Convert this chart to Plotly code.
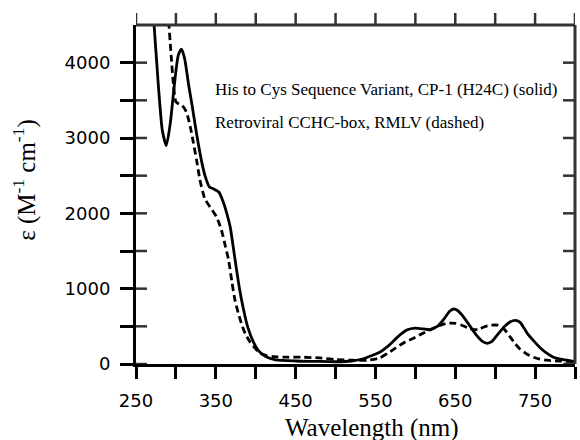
import plotly.graph_objects as go

# ---- data ----
wavelength_solid = [262, 272, 278, 283, 288, 293, 298, 303, 307, 311, 316, 320, 326, 332, 337, 342,
                    348, 354, 359, 364, 368, 372, 376, 380, 385, 390, 397, 404, 413, 425, 450, 475,
                    500, 520, 535, 545, 556, 565, 572, 580, 589, 600, 610, 618, 627, 636, 643, 648,
                    653, 660, 668, 676, 684, 690, 696, 703, 712, 719, 725, 731, 740, 748, 756, 765,
                    773, 782, 790, 800]
eps_solid = [6000, 4600, 3700, 3100, 2900, 3200, 3700, 4100, 4180, 4050, 3700, 3450, 3050, 2700, 2480, 2350,
             2320, 2280, 2160, 1990, 1820, 1540, 1250, 980, 710, 490, 295, 170, 95, 55, 40, 35,
             30, 40, 70, 110, 160, 230, 300, 380, 450, 475, 465, 455, 495, 600, 700, 730,
             710, 630, 510, 390, 300, 275, 300, 390, 500, 560, 580, 555, 410, 310, 220, 140,
             90, 65, 50, 30]

wavelength_dashed = [283, 290, 294, 297, 300, 304, 308, 313, 318, 322, 326, 330, 336, 343, 351, 357,
                     362, 366, 370, 374, 378, 382, 387, 393, 400, 406, 414, 422, 440, 460, 480, 500,
                     520, 540, 555, 565, 575, 585, 597, 608, 618, 630, 640, 650, 658, 666, 673, 680,
                     688, 695, 703, 710, 718, 725, 731, 740, 748, 756, 765, 780, 800]
eps_dashed = [6000, 4700, 4100, 3700, 3480, 3450, 3430, 3350, 3150, 2930, 2700, 2450, 2200, 2080, 1950, 1780,
              1560, 1380, 1100, 850, 680, 540, 400, 290, 200, 140, 110, 97, 90, 90, 80, 60,
              50, 50, 80, 140, 210, 280, 340, 400, 450, 510, 540, 540, 515, 480, 455, 465,
              500, 515, 515, 480, 370, 270, 200, 130, 90, 65, 50, 40, 30]

x_label_values = [250, 350, 450, 550, 650, 750]
x_label_text = ["250", "350", "450", "550", "650", "750"]
x_minor_values = [300, 400, 500, 600, 700, 800]
x_all_ticks = [250, 300, 350, 400, 450, 500, 550, 600, 650, 700, 750, 800]
y_label_values = [0, 1000, 2000, 3000, 4000]
y_label_text = ["0", "1000", "2000", "3000", "4000"]
y_minor_values = [500, 1500, 2500, 3500]
y_all_ticks = [0, 500, 1000, 1500, 2000, 2500, 3000, 3500, 4000]

legend_lines = ["His to Cys Sequence Variant, CP-1 (H24C) (solid)",
                "Retroviral CCHC-box, RMLV (dashed)"]
legend_y = [3640, 3200]

X_RANGE = [250, 800]
Y_RANGE = [0, 4500]
INK = "#000000"
FRAME_INK = "#333333"
SANS = "DejaVu Sans"
SERIF = "Liberation Serif, Times New Roman, serif"

fig = go.Figure()
fig.add_trace(go.Scatter(x=wavelength_solid, y=eps_solid, mode="lines",
                         line=dict(color=INK, width=2.8, shape="spline", smoothing=0.6),
                         showlegend=False, hoverinfo="skip"))
fig.add_trace(go.Scatter(x=wavelength_dashed, y=eps_dashed, mode="lines",
                         line=dict(color=INK, width=2.8, dash="7px,4px", shape="spline", smoothing=0.6),
                         showlegend=False, hoverinfo="skip"))

tickfont = dict(family=SANS, size=18, color=INK)

fig.update_layout(
    width=580, height=440,
    margin=dict(l=136, r=5, t=25, b=76),
    paper_bgcolor="white", plot_bgcolor="white",
    showlegend=False,
    xaxis=dict(range=X_RANGE, tickmode="array", tickvals=x_label_values, ticktext=x_label_text,
               ticks="outside", ticklen=12, tickwidth=2.5, tickcolor=INK,
               showline=True, linewidth=3, linecolor=INK, showgrid=False, zeroline=False,
               minor=dict(tickmode="array", tickvals=x_minor_values, ticks="outside",
                          ticklen=12, tickwidth=2.5, tickcolor=INK, showgrid=False),
               tickfont=tickfont, ticklabelstandoff=6),
    yaxis=dict(range=Y_RANGE, tickmode="array", tickvals=y_label_values, ticktext=y_label_text,
               ticks="outside", ticklen=13, tickwidth=2.5, tickcolor=INK,
               showline=True, linewidth=3, linecolor=INK, showgrid=False, zeroline=False,
               minor=dict(tickmode="array", tickvals=y_minor_values, ticks="outside",
                          ticklen=13, tickwidth=2.5, tickcolor=INK, showgrid=False),
               tickfont=tickfont, ticklabelstandoff=6),
)

frame_line = dict(color=FRAME_INK, width=3)
tick_line = dict(color=FRAME_INK, width=2.5)
# top and right frame lines
fig.add_shape(type="line", xref="paper", yref="paper", x0=0, x1=1, y0=1, y1=1,
              line=frame_line, layer="above")
fig.add_shape(type="line", xref="paper", yref="paper", x0=1, x1=1, y0=0, y1=1,
              line=frame_line, layer="above")
# top ticks (outside), placed on the x scale
for v in x_all_ticks:
    fig.add_shape(type="line", xref="x", x0=v, x1=v, yref="paper", ysizemode="pixel",
                  yanchor=1, y0=0, y1=12, line=tick_line, layer="above")
# inner ticks on the left and right frames, placed on the y scale
for v in y_all_ticks:
    fig.add_shape(type="line", yref="y", y0=v, y1=v, xref="paper", xsizemode="pixel",
                  xanchor=0, x0=0, x1=11, line=tick_line, layer="above")
    fig.add_shape(type="line", yref="y", y0=v, y1=v, xref="paper", xsizemode="pixel",
                  xanchor=1, x0=-12, x1=0, line=tick_line, layer="above")

for txt, yv in zip(legend_lines, legend_y):
    fig.add_annotation(text=txt, xref="x", yref="y", x=346, y=yv,
                       xanchor="left", yanchor="middle", showarrow=False,
                       font=dict(family=SERIF, size=17, color=INK))

fig.add_annotation(text="Wavelength (nm)", xref="paper", yref="paper", x=0.5376, y=-0.19,
                   xanchor="center", yanchor="middle", showarrow=False,
                   font=dict(family=SERIF, size=25, color=INK))
fig.add_annotation(text="ε (M<sup>-1</sup> cm<sup>-1</sup>)", xref="paper", yref="paper",
                   x=-0.253, y=0.543, xanchor="center", yanchor="middle", textangle=-90,
                   showarrow=False, font=dict(family=SERIF, size=25, color=INK))

fig.write_html("out.html")
